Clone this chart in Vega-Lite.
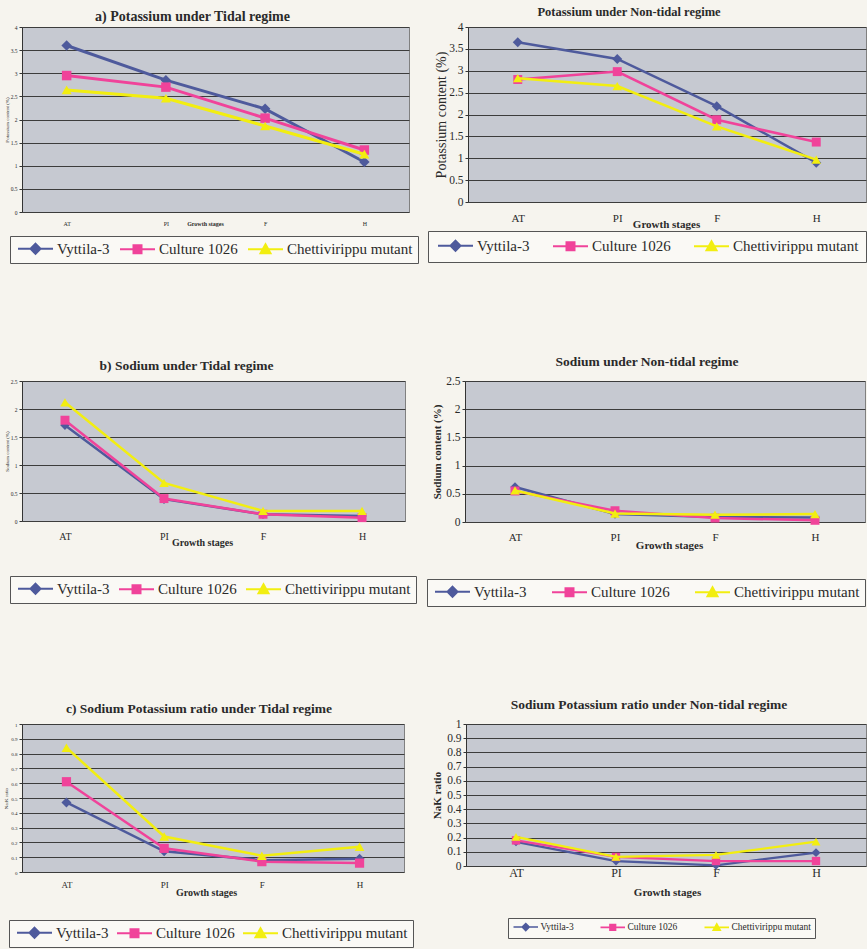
{
"$schema":"https://vega.github.io/schema/vega-lite/v6.json",
"padding":{"left":3,"top":5,"right":1,"bottom":2},
"align":"none",
"datasets":{
"kTidal":[
{"stage":"AT","variety":"Vyttila-3","value":3.6},{"stage":"PI","variety":"Vyttila-3","value":2.85},{"stage":"F","variety":"Vyttila-3","value":2.23},{"stage":"H","variety":"Vyttila-3","value":1.08},
{"stage":"AT","variety":"Culture 1026","value":2.95},{"stage":"PI","variety":"Culture 1026","value":2.7},{"stage":"F","variety":"Culture 1026","value":2.03},{"stage":"H","variety":"Culture 1026","value":1.34},
{"stage":"AT","variety":"Chettivirippu mutant","value":2.64},{"stage":"PI","variety":"Chettivirippu mutant","value":2.46},{"stage":"F","variety":"Chettivirippu mutant","value":1.86},{"stage":"H","variety":"Chettivirippu mutant","value":1.25}],
"kNon":[
{"stage":"AT","variety":"Vyttila-3","value":3.65},{"stage":"PI","variety":"Vyttila-3","value":3.27},{"stage":"F","variety":"Vyttila-3","value":2.19},{"stage":"H","variety":"Vyttila-3","value":0.9},
{"stage":"AT","variety":"Culture 1026","value":2.8},{"stage":"PI","variety":"Culture 1026","value":2.98},{"stage":"F","variety":"Culture 1026","value":1.88},{"stage":"H","variety":"Culture 1026","value":1.37},
{"stage":"AT","variety":"Chettivirippu mutant","value":2.83},{"stage":"PI","variety":"Chettivirippu mutant","value":2.65},{"stage":"F","variety":"Chettivirippu mutant","value":1.73},{"stage":"H","variety":"Chettivirippu mutant","value":0.97}],
"naTidal":[
{"stage":"AT","variety":"Vyttila-3","value":1.71},{"stage":"PI","variety":"Vyttila-3","value":0.39},{"stage":"F","variety":"Vyttila-3","value":0.12},{"stage":"H","variety":"Vyttila-3","value":0.09},
{"stage":"AT","variety":"Culture 1026","value":1.8},{"stage":"PI","variety":"Culture 1026","value":0.4},{"stage":"F","variety":"Culture 1026","value":0.12},{"stage":"H","variety":"Culture 1026","value":0.06},
{"stage":"AT","variety":"Chettivirippu mutant","value":2.12},{"stage":"PI","variety":"Chettivirippu mutant","value":0.68},{"stage":"F","variety":"Chettivirippu mutant","value":0.18},{"stage":"H","variety":"Chettivirippu mutant","value":0.18}],
"naNon":[
{"stage":"AT","variety":"Vyttila-3","value":0.62},{"stage":"PI","variety":"Vyttila-3","value":0.14},{"stage":"F","variety":"Vyttila-3","value":0.09},{"stage":"H","variety":"Vyttila-3","value":0.08},
{"stage":"AT","variety":"Culture 1026","value":0.55},{"stage":"PI","variety":"Culture 1026","value":0.2},{"stage":"F","variety":"Culture 1026","value":0.07},{"stage":"H","variety":"Culture 1026","value":0.03},
{"stage":"AT","variety":"Chettivirippu mutant","value":0.56},{"stage":"PI","variety":"Chettivirippu mutant","value":0.15},{"stage":"F","variety":"Chettivirippu mutant","value":0.13},{"stage":"H","variety":"Chettivirippu mutant","value":0.14}],
"rTidal":[
{"stage":"AT","variety":"Vyttila-3","value":0.47},{"stage":"PI","variety":"Vyttila-3","value":0.14},{"stage":"F","variety":"Vyttila-3","value":0.08},{"stage":"H","variety":"Vyttila-3","value":0.09},
{"stage":"AT","variety":"Culture 1026","value":0.61},{"stage":"PI","variety":"Culture 1026","value":0.16},{"stage":"F","variety":"Culture 1026","value":0.07},{"stage":"H","variety":"Culture 1026","value":0.06},
{"stage":"AT","variety":"Chettivirippu mutant","value":0.84},{"stage":"PI","variety":"Chettivirippu mutant","value":0.24},{"stage":"F","variety":"Chettivirippu mutant","value":0.11},{"stage":"H","variety":"Chettivirippu mutant","value":0.17}],
"rNon":[
{"stage":"AT","variety":"Vyttila-3","value":0.17},{"stage":"PI","variety":"Vyttila-3","value":0.035},{"stage":"F","variety":"Vyttila-3","value":0.005},{"stage":"H","variety":"Vyttila-3","value":0.094},
{"stage":"AT","variety":"Culture 1026","value":0.18},{"stage":"PI","variety":"Culture 1026","value":0.064},{"stage":"F","variety":"Culture 1026","value":0.035},{"stage":"H","variety":"Culture 1026","value":0.035},
{"stage":"AT","variety":"Chettivirippu mutant","value":0.205},{"stage":"PI","variety":"Chettivirippu mutant","value":0.064},{"stage":"F","variety":"Chettivirippu mutant","value":0.078},{"stage":"H","variety":"Chettivirippu mutant","value":0.172}]
},
"resolve":{"scale":{"x":"independent","y":"independent","fill":"independent","stroke":"independent","shape":"independent"},"legend":{"fill":"independent","stroke":"independent","shape":"independent"}},
"spacing":90,
"vconcat":[
{"hconcat":[
{"width":387,"height":185,
"title":{"text":"a) Potassium under Tidal regime","fontSize":14,"dx":-23,"offset":1,"frame":"group","anchor":"middle"},
"data":{"name":"kTidal"},
"encoding":{
"x":{"field":"stage","type":"nominal","sort":["AT","PI","F","H"],"scale":{"type":"point","padding":0.45},"axis":{"labelAngle":0,"labelFontSize":6,"labelPadding":8,"ticks":false,"tickSize":0,"domain":false,"title":"Growth stages","titleFontSize":6,"titleX":183,"titleY":11,"titleBaseline":"middle","titleAlign":"center"}},
"y":{"field":"value","type":"quantitative","scale":{"domain":[0,4],"nice":false},"axis":{"values":[0,0.5,1,1.5,2,2.5,3,3.5,4],"format":"~g","minExtent":0,"labelFontSize":5.5,"labelPadding":2,"tickSize":3,"title":"Potassium content (%)","titleFontSize":5,"titleFontWeight":"normal","titlePadding":1}}},
"layer":[
{"transform":[{"filter":"datum.variety == 'Vyttila-3'"}],"mark":{"type":"line","strokeWidth":3,"color":"#4e5a9c","point":{"shape":"diamond","filled":true,"opacity":1,"size":110,"color":"#4e5a9c"}}},
{"transform":[{"filter":"datum.variety == 'Culture 1026'"}],"mark":{"type":"line","strokeWidth":3,"color":"#f0439a","point":{"shape":"square","filled":true,"opacity":1,"size":90,"color":"#f0439a"}}},
{"transform":[{"filter":"datum.variety == 'Chettivirippu mutant'"}],"mark":{"type":"line","strokeWidth":3,"color":"#f2ee10","point":{"shape":"triangle-up","filled":true,"opacity":1,"size":100,"color":"#f2ee10"}}},
{"transform":[{"filter":"datum.value < -1"}],"mark":{"type":"point","filled":true,"opacity":1},
"encoding":{
"fill":{"field":"variety","type":"nominal","scale":{"domain":["Vyttila-3","Culture 1026","Chettivirippu mutant"],"range":["#4e5a9c","#f0439a","#f2ee10"]},"legend":{"title":null,"orient":"none","legendX":-12,"legendY":209,"direction":"horizontal","labelFont":"Liberation Serif","labelFontSize":15,"symbolSize":100,"symbolOffset":13,"labelOffset":14,"columnPadding":6,"padding":5,"strokeColor":"#555","fillColor":"#faf9f5","symbolStrokeWidth":2}},
"stroke":{"field":"variety","type":"nominal","scale":{"domain":["Vyttila-3","Culture 1026","Chettivirippu mutant"],"range":["#4e5a9c","#f0439a","#f2ee10"]},"legend":{"title":null,"orient":"none","legendX":-12,"legendY":209,"direction":"horizontal","labelFont":"Liberation Serif","labelFontSize":15,"symbolSize":100,"symbolOffset":13,"labelOffset":14,"columnPadding":6,"padding":5,"strokeColor":"#555","fillColor":"#faf9f5","symbolStrokeWidth":2}},
"shape":{"field":"variety","type":"nominal","scale":{"domain":["Vyttila-3","Culture 1026","Chettivirippu mutant"],"range":["M-3.5,0H3.5M0,-1L1,0L0,1L-1,0Z","M-3.5,0H3.5M-0.8,-0.8H0.8V0.8H-0.8Z","M-3.5,0H3.5M0,-1L1,0.8H-1Z"]},"legend":{"title":null,"orient":"none","legendX":-12,"legendY":209,"direction":"horizontal","labelFont":"Liberation Serif","labelFontSize":15,"symbolSize":100,"symbolOffset":13,"labelOffset":14,"columnPadding":6,"padding":5,"strokeColor":"#555","fillColor":"#faf9f5","symbolStrokeWidth":2}}}}
]},
{"width":398,"height":175,
"title":{"text":"Potassium under Non-tidal regime","fontSize":12.5,"dx":-38,"offset":3,"frame":"group","anchor":"middle"},
"data":{"name":"kNon"},
"encoding":{
"x":{"field":"stage","type":"nominal","sort":["AT","PI","F","H"],"scale":{"type":"point","padding":0.5},"axis":{"labelAngle":0,"labelFontSize":11,"labelPadding":10,"ticks":false,"tickSize":0,"domain":false,"title":"Growth stages","titleFontSize":11,"titleX":198,"titleY":22,"titleBaseline":"middle","titleAlign":"center"}},
"y":{"field":"value","type":"quantitative","scale":{"domain":[0,4],"nice":false},"axis":{"values":[0,0.5,1,1.5,2,2.5,3,3.5,4],"format":"~g","minExtent":0,"labelFontSize":11.5,"labelPadding":2,"tickSize":3,"title":"Potassium content (%)","titleFontSize":14,"titleFontWeight":"normal","titlePadding":0}}},
"layer":[
{"transform":[{"filter":"datum.variety == 'Vyttila-3'"}],"mark":{"type":"line","strokeWidth":2.5,"color":"#4e5a9c","point":{"shape":"diamond","filled":true,"opacity":1,"size":100,"color":"#4e5a9c"}}},
{"transform":[{"filter":"datum.variety == 'Culture 1026'"}],"mark":{"type":"line","strokeWidth":2.5,"color":"#f0439a","point":{"shape":"square","filled":true,"opacity":1,"size":80,"color":"#f0439a"}}},
{"transform":[{"filter":"datum.variety == 'Chettivirippu mutant'"}],"mark":{"type":"line","strokeWidth":2.5,"color":"#f2ee10","point":{"shape":"triangle-up","filled":true,"opacity":1,"size":90,"color":"#f2ee10"}}},
{"transform":[{"filter":"datum.value < -1"}],"mark":{"type":"point","filled":true,"opacity":1},
"encoding":{
"fill":{"field":"variety","type":"nominal","scale":{"domain":["Vyttila-3","Culture 1026","Chettivirippu mutant"],"range":["#4e5a9c","#f0439a","#f2ee10"]},"legend":{"title":null,"orient":"none","legendX":-40,"legendY":204,"direction":"horizontal","labelFont":"Liberation Serif","labelFontSize":15,"symbolSize":100,"symbolOffset":13,"labelOffset":14,"columnPadding":19,"padding":7,"strokeColor":"#555","fillColor":"#faf9f5","symbolStrokeWidth":2}},
"stroke":{"field":"variety","type":"nominal","scale":{"domain":["Vyttila-3","Culture 1026","Chettivirippu mutant"],"range":["#4e5a9c","#f0439a","#f2ee10"]},"legend":{"title":null,"orient":"none","legendX":-40,"legendY":204,"direction":"horizontal","labelFont":"Liberation Serif","labelFontSize":15,"symbolSize":100,"symbolOffset":13,"labelOffset":14,"columnPadding":19,"padding":7,"strokeColor":"#555","fillColor":"#faf9f5","symbolStrokeWidth":2}},
"shape":{"field":"variety","type":"nominal","scale":{"domain":["Vyttila-3","Culture 1026","Chettivirippu mutant"],"range":["M-3.5,0H3.5M0,-1L1,0L0,1L-1,0Z","M-3.5,0H3.5M-0.8,-0.8H0.8V0.8H-0.8Z","M-3.5,0H3.5M0,-1L1,0.8H-1Z"]},"legend":{"title":null,"orient":"none","legendX":-40,"legendY":204,"direction":"horizontal","labelFont":"Liberation Serif","labelFontSize":15,"symbolSize":100,"symbolOffset":13,"labelOffset":14,"columnPadding":19,"padding":7,"strokeColor":"#555","fillColor":"#faf9f5","symbolStrokeWidth":2}}}}
]}
],"spacing":8,
"resolve":{"scale":{"x":"independent","y":"independent","fill":"independent","stroke":"independent","shape":"independent"},"legend":{"fill":"independent","stroke":"independent","shape":"independent"}}},
{"hconcat":[
{"width":383,"height":140,
"title":{"text":"b) Sodium under Tidal regime","fontSize":13.5,"dx":-27,"offset":7,"frame":"group","anchor":"middle"},
"data":{"name":"naTidal"},
"encoding":{
"x":{"field":"stage","type":"nominal","sort":["AT","PI","F","H"],"scale":{"type":"point","padding":0.434},"axis":{"labelAngle":0,"labelFontSize":10,"labelPadding":10,"ticks":false,"tickSize":0,"domain":false,"title":"Growth stages","titleFontSize":10,"titleX":180,"titleY":21,"titleBaseline":"middle","titleAlign":"center"}},
"y":{"field":"value","type":"quantitative","scale":{"domain":[0,2.5],"nice":false},"axis":{"values":[0,0.5,1,1.5,2,2.5],"format":"~g","minExtent":0,"labelFontSize":5.5,"labelPadding":2,"tickSize":3,"title":"Sodium content (%)","titleFontSize":5,"titleFontWeight":"normal","titlePadding":1}}},
"layer":[
{"transform":[{"filter":"datum.variety == 'Vyttila-3'"}],"mark":{"type":"line","strokeWidth":2.5,"color":"#4e5a9c","point":{"shape":"diamond","filled":true,"opacity":1,"size":90,"color":"#4e5a9c"}}},
{"transform":[{"filter":"datum.variety == 'Culture 1026'"}],"mark":{"type":"line","strokeWidth":2.5,"color":"#f0439a","point":{"shape":"square","filled":true,"opacity":1,"size":80,"color":"#f0439a"}}},
{"transform":[{"filter":"datum.variety == 'Chettivirippu mutant'"}],"mark":{"type":"line","strokeWidth":2.5,"color":"#f2ee10","point":{"shape":"triangle-up","filled":true,"opacity":1,"size":90,"color":"#f2ee10"}}},
{"transform":[{"filter":"datum.value < -1"}],"mark":{"type":"point","filled":true,"opacity":1},
"encoding":{
"fill":{"field":"variety","type":"nominal","scale":{"domain":["Vyttila-3","Culture 1026","Chettivirippu mutant"],"range":["#4e5a9c","#f0439a","#f2ee10"]},"legend":{"title":null,"orient":"none","legendX":-12,"legendY":195,"direction":"horizontal","labelFont":"Liberation Serif","labelFontSize":15,"symbolSize":100,"symbolOffset":13,"labelOffset":14,"columnPadding":5,"padding":5,"strokeColor":"#555","fillColor":"#faf9f5","symbolStrokeWidth":2}},
"stroke":{"field":"variety","type":"nominal","scale":{"domain":["Vyttila-3","Culture 1026","Chettivirippu mutant"],"range":["#4e5a9c","#f0439a","#f2ee10"]},"legend":{"title":null,"orient":"none","legendX":-12,"legendY":195,"direction":"horizontal","labelFont":"Liberation Serif","labelFontSize":15,"symbolSize":100,"symbolOffset":13,"labelOffset":14,"columnPadding":5,"padding":5,"strokeColor":"#555","fillColor":"#faf9f5","symbolStrokeWidth":2}},
"shape":{"field":"variety","type":"nominal","scale":{"domain":["Vyttila-3","Culture 1026","Chettivirippu mutant"],"range":["M-3.5,0H3.5M0,-1L1,0L0,1L-1,0Z","M-3.5,0H3.5M-0.8,-0.8H0.8V0.8H-0.8Z","M-3.5,0H3.5M0,-1L1,0.8H-1Z"]},"legend":{"title":null,"orient":"none","legendX":-12,"legendY":195,"direction":"horizontal","labelFont":"Liberation Serif","labelFontSize":15,"symbolSize":100,"symbolOffset":13,"labelOffset":14,"columnPadding":5,"padding":5,"strokeColor":"#555","fillColor":"#faf9f5","symbolStrokeWidth":2}}}}
]},
{"width":400,"height":141,
"title":{"text":"Sodium under Non-tidal regime","fontSize":13.5,"dx":-18,"offset":7,"frame":"group","anchor":"middle"},
"data":{"name":"naNon"},
"encoding":{
"x":{"field":"stage","type":"nominal","sort":["AT","PI","F","H"],"scale":{"type":"point","padding":0.5},"axis":{"labelAngle":0,"labelFontSize":11,"labelPadding":9,"ticks":false,"tickSize":0,"domain":false,"title":"Growth stages","titleFontSize":11,"titleX":204,"titleY":23,"titleBaseline":"middle","titleAlign":"center"}},
"y":{"field":"value","type":"quantitative","scale":{"domain":[0,2.5],"nice":false},"axis":{"values":[0,0.5,1,1.5,2,2.5],"format":"~g","minExtent":0,"labelFontSize":11.5,"labelPadding":2,"tickSize":3,"title":"Sodium content (%)","titleFontSize":11,"titleFontWeight":"bold","titlePadding":3}}},
"layer":[
{"transform":[{"filter":"datum.variety == 'Vyttila-3'"}],"mark":{"type":"line","strokeWidth":2.5,"color":"#4e5a9c","point":{"shape":"diamond","filled":true,"opacity":1,"size":90,"color":"#4e5a9c"}}},
{"transform":[{"filter":"datum.variety == 'Culture 1026'"}],"mark":{"type":"line","strokeWidth":2.5,"color":"#f0439a","point":{"shape":"square","filled":true,"opacity":1,"size":80,"color":"#f0439a"}}},
{"transform":[{"filter":"datum.variety == 'Chettivirippu mutant'"}],"mark":{"type":"line","strokeWidth":2.5,"color":"#f2ee10","point":{"shape":"triangle-up","filled":true,"opacity":1,"size":90,"color":"#f2ee10"}}},
{"transform":[{"filter":"datum.value < -1"}],"mark":{"type":"point","filled":true,"opacity":1},
"encoding":{
"fill":{"field":"variety","type":"nominal","scale":{"domain":["Vyttila-3","Culture 1026","Chettivirippu mutant"],"range":["#4e5a9c","#f0439a","#f2ee10"]},"legend":{"title":null,"orient":"none","legendX":-38,"legendY":198,"direction":"horizontal","labelFont":"Liberation Serif","labelFontSize":15,"symbolSize":100,"symbolOffset":13,"labelOffset":14,"columnPadding":21,"padding":5,"strokeColor":"#555","fillColor":"#faf9f5","symbolStrokeWidth":2}},
"stroke":{"field":"variety","type":"nominal","scale":{"domain":["Vyttila-3","Culture 1026","Chettivirippu mutant"],"range":["#4e5a9c","#f0439a","#f2ee10"]},"legend":{"title":null,"orient":"none","legendX":-38,"legendY":198,"direction":"horizontal","labelFont":"Liberation Serif","labelFontSize":15,"symbolSize":100,"symbolOffset":13,"labelOffset":14,"columnPadding":21,"padding":5,"strokeColor":"#555","fillColor":"#faf9f5","symbolStrokeWidth":2}},
"shape":{"field":"variety","type":"nominal","scale":{"domain":["Vyttila-3","Culture 1026","Chettivirippu mutant"],"range":["M-3.5,0H3.5M0,-1L1,0L0,1L-1,0Z","M-3.5,0H3.5M-0.8,-0.8H0.8V0.8H-0.8Z","M-3.5,0H3.5M0,-1L1,0.8H-1Z"]},"legend":{"title":null,"orient":"none","legendX":-38,"legendY":198,"direction":"horizontal","labelFont":"Liberation Serif","labelFontSize":15,"symbolSize":100,"symbolOffset":13,"labelOffset":14,"columnPadding":21,"padding":5,"strokeColor":"#555","fillColor":"#faf9f5","symbolStrokeWidth":2}}}}
]}
],"spacing":9,
"resolve":{"scale":{"x":"independent","y":"independent","fill":"independent","stroke":"independent","shape":"independent"},"legend":{"fill":"independent","stroke":"independent","shape":"independent"}}},
{"hconcat":[
{"width":382,"height":148,
"title":{"text":"c) Sodium Potassium ratio under Tidal regime","fontSize":13.5,"dx":-14,"offset":7,"frame":"group","anchor":"middle"},
"data":{"name":"rTidal"},
"encoding":{
"x":{"field":"stage","type":"nominal","sort":["AT","PI","F","H"],"scale":{"type":"point","padding":0.455},"axis":{"labelAngle":0,"labelFontSize":9,"labelPadding":8,"ticks":false,"tickSize":0,"domain":false,"title":"Growth stages","titleFontSize":10,"titleX":184,"titleY":20,"titleBaseline":"middle","titleAlign":"center"}},
"y":{"field":"value","type":"quantitative","scale":{"domain":[0,1],"nice":false},"axis":{"values":[0,0.1,0.2,0.3,0.4,0.5,0.6,0.7,0.8,0.9,1],"format":"~g","minExtent":0,"labelFontSize":5,"labelPadding":2,"tickSize":3,"title":"Na:K ratio","titleFontSize":5,"titleFontWeight":"normal","titlePadding":2}}},
"layer":[
{"transform":[{"filter":"datum.variety == 'Vyttila-3'"}],"mark":{"type":"line","strokeWidth":2.5,"color":"#4e5a9c","point":{"shape":"diamond","filled":true,"opacity":1,"size":100,"color":"#4e5a9c"}}},
{"transform":[{"filter":"datum.variety == 'Culture 1026'"}],"mark":{"type":"line","strokeWidth":2.5,"color":"#f0439a","point":{"shape":"square","filled":true,"opacity":1,"size":85,"color":"#f0439a"}}},
{"transform":[{"filter":"datum.variety == 'Chettivirippu mutant'"}],"mark":{"type":"line","strokeWidth":2.5,"color":"#f2ee10","point":{"shape":"triangle-up","filled":true,"opacity":1,"size":95,"color":"#f2ee10"}}},
{"transform":[{"filter":"datum.value < -1"}],"mark":{"type":"point","filled":true,"opacity":1},
"encoding":{
"fill":{"field":"variety","type":"nominal","scale":{"domain":["Vyttila-3","Culture 1026","Chettivirippu mutant"],"range":["#4e5a9c","#f0439a","#f2ee10"]},"legend":{"title":null,"orient":"none","legendX":-13,"legendY":196,"direction":"horizontal","labelFont":"Liberation Serif","labelFontSize":15,"symbolSize":100,"symbolOffset":13,"labelOffset":14,"columnPadding":4,"padding":5,"strokeColor":"#555","fillColor":"#faf9f5","symbolStrokeWidth":2}},
"stroke":{"field":"variety","type":"nominal","scale":{"domain":["Vyttila-3","Culture 1026","Chettivirippu mutant"],"range":["#4e5a9c","#f0439a","#f2ee10"]},"legend":{"title":null,"orient":"none","legendX":-13,"legendY":196,"direction":"horizontal","labelFont":"Liberation Serif","labelFontSize":15,"symbolSize":100,"symbolOffset":13,"labelOffset":14,"columnPadding":4,"padding":5,"strokeColor":"#555","fillColor":"#faf9f5","symbolStrokeWidth":2}},
"shape":{"field":"variety","type":"nominal","scale":{"domain":["Vyttila-3","Culture 1026","Chettivirippu mutant"],"range":["M-3.5,0H3.5M0,-1L1,0L0,1L-1,0Z","M-3.5,0H3.5M-0.8,-0.8H0.8V0.8H-0.8Z","M-3.5,0H3.5M0,-1L1,0.8H-1Z"]},"legend":{"title":null,"orient":"none","legendX":-13,"legendY":196,"direction":"horizontal","labelFont":"Liberation Serif","labelFontSize":15,"symbolSize":100,"symbolOffset":13,"labelOffset":14,"columnPadding":4,"padding":5,"strokeColor":"#555","fillColor":"#faf9f5","symbolStrokeWidth":2}}}}
]},
{"width":400,"height":142,
"title":{"text":"Sodium Potassium ratio under Non-tidal regime","fontSize":13.5,"dx":-17,"offset":7,"frame":"group","anchor":"middle"},
"data":{"name":"rNon"},
"encoding":{
"x":{"field":"stage","type":"nominal","sort":["AT","PI","F","H"],"scale":{"type":"point","padding":0.5},"axis":{"labelAngle":0,"labelFontSize":12,"labelPadding":1,"ticks":false,"tickSize":0,"domain":false,"title":"Growth stages","titleFontSize":11,"titleX":201,"titleY":26,"titleBaseline":"middle","titleAlign":"center"}},
"y":{"field":"value","type":"quantitative","scale":{"domain":[0,1],"nice":false},"axis":{"values":[0,0.1,0.2,0.3,0.4,0.5,0.6,0.7,0.8,0.9,1],"format":"~g","minExtent":0,"labelFontSize":11.5,"labelPadding":2,"tickSize":3,"title":"NaK ratio","titleFontSize":11,"titleFontWeight":"bold","titlePadding":4}}},
"layer":[
{"transform":[{"filter":"datum.variety == 'Vyttila-3'"}],"mark":{"type":"line","strokeWidth":2.2,"color":"#4e5a9c","point":{"shape":"diamond","filled":true,"opacity":1,"size":80,"color":"#4e5a9c"}}},
{"transform":[{"filter":"datum.variety == 'Culture 1026'"}],"mark":{"type":"line","strokeWidth":2.2,"color":"#f0439a","point":{"shape":"square","filled":true,"opacity":1,"size":70,"color":"#f0439a"}}},
{"transform":[{"filter":"datum.variety == 'Chettivirippu mutant'"}],"mark":{"type":"line","strokeWidth":2.2,"color":"#f2ee10","point":{"shape":"triangle-up","filled":true,"opacity":1,"size":80,"color":"#f2ee10"}}},
{"transform":[{"filter":"datum.value < -1"}],"mark":{"type":"point","filled":true,"opacity":1},
"encoding":{
"fill":{"field":"variety","type":"nominal","scale":{"domain":["Vyttila-3","Culture 1026","Chettivirippu mutant"],"range":["#4e5a9c","#f0439a","#f2ee10"]},"legend":{"title":null,"orient":"none","legendX":42,"legendY":194,"direction":"horizontal","labelFont":"Liberation Serif","labelFontSize":9.5,"symbolSize":49,"symbolOffset":9,"labelOffset":10,"columnPadding":23,"padding":4,"strokeColor":"#555","fillColor":"#faf9f5","symbolStrokeWidth":1.6}},
"stroke":{"field":"variety","type":"nominal","scale":{"domain":["Vyttila-3","Culture 1026","Chettivirippu mutant"],"range":["#4e5a9c","#f0439a","#f2ee10"]},"legend":{"title":null,"orient":"none","legendX":42,"legendY":194,"direction":"horizontal","labelFont":"Liberation Serif","labelFontSize":9.5,"symbolSize":49,"symbolOffset":9,"labelOffset":10,"columnPadding":23,"padding":4,"strokeColor":"#555","fillColor":"#faf9f5","symbolStrokeWidth":1.6}},
"shape":{"field":"variety","type":"nominal","scale":{"domain":["Vyttila-3","Culture 1026","Chettivirippu mutant"],"range":["M-3.5,0H3.5M0,-1L1,0L0,1L-1,0Z","M-3.5,0H3.5M-0.8,-0.8H0.8V0.8H-0.8Z","M-3.5,0H3.5M0,-1L1,0.8H-1Z"]},"legend":{"title":null,"orient":"none","legendX":42,"legendY":194,"direction":"horizontal","labelFont":"Liberation Serif","labelFontSize":9.5,"symbolSize":49,"symbolOffset":9,"labelOffset":10,"columnPadding":23,"padding":4,"strokeColor":"#555","fillColor":"#faf9f5","symbolStrokeWidth":1.6}}}}
]}
],"spacing":17,
"resolve":{"scale":{"x":"independent","y":"independent","fill":"independent","stroke":"independent","shape":"independent"},"legend":{"fill":"independent","stroke":"independent","shape":"independent"}}}
],
"config":{
"background":"#f6f4ee",
"font":"Liberation Serif",
"view":{"fill":"#c6c9d1","stroke":"#808080","strokeWidth":1},
"title":{"font":"Liberation Serif","fontWeight":"bold","color":"#2a2a2a"},
"axis":{"labelFont":"Liberation Serif","titleFont":"Liberation Serif","labelColor":"#2a2a2a","titleColor":"#2a2a2a","domainColor":"#333","tickColor":"#333","gridColor":"#3c3c3c","gridWidth":1,"gridOpacity":1,"titleFontWeight":"bold"},
"axisX":{"grid":false},
"axisY":{"grid":true},
"legend":{"labelFont":"Liberation Serif","labelColor":"#2a2a2a"}
}
}
